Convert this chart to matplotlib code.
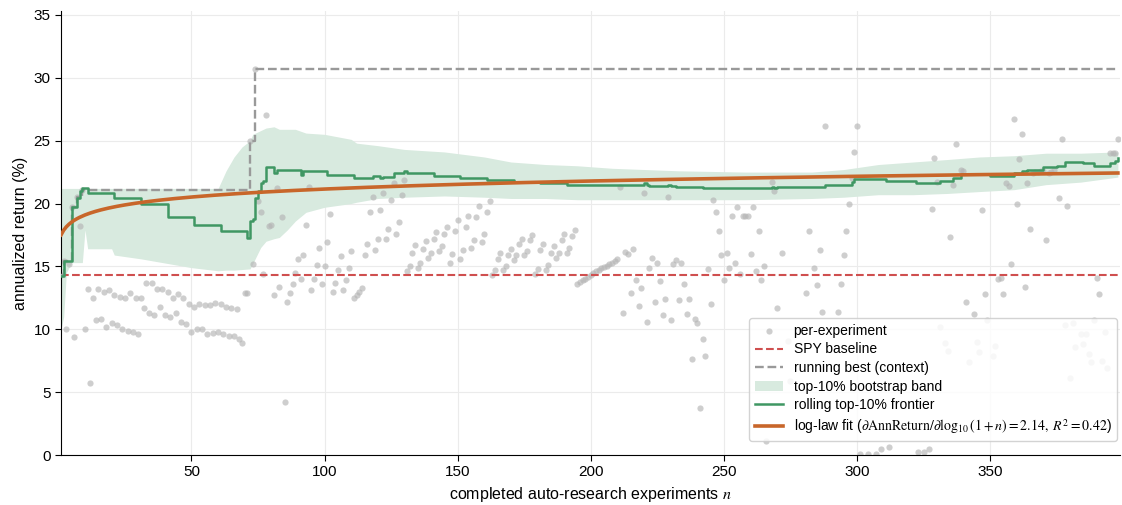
import matplotlib
matplotlib.use("Agg")
import matplotlib.pyplot as plt
import numpy as np

plt.rcParams["font.family"] = ["Liberation Sans", "DejaVu Sans"]
plt.rcParams["mathtext.fontset"] = "stix"

nan = np.nan

# annualized return (%) of each experiment, n = 1..398 (nan = not visible)
exp_ret = [
    14.3, 15.4, 10.0, 15.2, 19.7, 9.4, 20.5, 18.2, 21.1, 10.0,
    13.2, 5.75, 12.5, 10.7, 13.2, 10.8, 13.0, 10.2, 13.1, 10.5,
    12.7, 10.3, 12.6, 10.0, 12.5, 9.9, 12.9, 9.8, 12.5, 9.6,
    12.5, 11.7, 13.7, 11.3, 13.7, 11.1, 13.2, 11.8, 13.2, 11.1,
    13.0, 11.0, 12.5, 11.3, 12.8, 10.6, 12.5, 10.4, 12.0, 9.8,
    11.8, 10.0, 12.0, 10.05, 11.9, 9.6, 11.95, 9.7, 12.1, 9.75,
    12.0, 9.6, 11.8, 9.5, 11.7, 9.5, 11.6, 9.2, 8.9, 12.9,
    12.9, 25.0, 15.2, 30.7, 20.2, 19.3, 14.4, 27.0, 18.2, 18.3,
    12.7, 21.2, 13.4, 18.9, 4.2, 12.2, 12.9, 13.6, 14.5, 15.6,
    14.0, 15.9, 18.3, 21.3, 13.1, 14.0, 15.1, 16.5, 13.6, 15.0,
    16.9, 19.2, 13.0, 13.7, 14.7, 15.8, 13.1, 13.9, 14.9, 16.2,
    12.5, 12.7, 13.0, 13.3, 15.9, 16.8, 19.3, 20.5, 16.3, 17.2,
    19.5, 20.8, 17.2, 18.0, 20.3, 21.6, 17.6, 18.5, 20.7, 21.9,
    14.6, 15.0, 16.1, 16.7, 14.9, 15.3, 16.4, 17.0, 15.7, 16.1,
    17.2, 17.7, 16.2, 16.6, 17.6, 18.1, 15.3, 16.0, 17.8, 18.7,
    15.6, 16.3, 18.1, 19.0, 16.5, 17.1, 18.9, 19.8, 16.9, 17.6,
    19.3, 20.2, 14.3, 14.7, 15.6, 16.1, 14.7, 15.0, 15.9, 16.4,
    15.5, 15.9, 16.8, 17.2, 15.9, 16.2, 17.1, 17.5, 14.4, 14.8,
    16.3, 16.8, 14.7, 15.1, 16.1, 16.6, 15.7, 16.1, 17.1, 17.6,
    16.1, 16.5, 17.4, 17.9, 13.6, 13.75, 13.9, 14.0, 14.15, 14.3,
    14.45, 14.6, 14.75, 14.85, 14.95, 15.05, 15.15, 15.25, 15.4, 15.55,
    21.3, 11.3, 16.15, 16.0, 12.9, 16.4, 13.9, 11.85, 13.3, 20.85,
    10.55, 14.9, 15.7, 12.2, 15.3, 13.85, 11.1, 12.4, 20.5, 10.7,
    15.2, 15.5, 12.3, 15.3, 13.6, 11.2, 12.4, 7.6, 10.8, 10.5,
    3.7, 9.2, 7.9, 14.8, 12.0, 20.3, 19.3, 17.8, 15.9, 13.9,
    16.1, 14.9, 19.0, 15.3, 19.7, 14.4, 19.0, 19.0, 19.0, 16.0,
    19.7, 14.6, 17.8, 13.9, 15.0, 1.1, nan, 21.7, 21.0, 11.7,
    nan, 16.1, nan, 9.1, 5.9, nan, nan, nan, nan, nan,
    12.9, 17.8, nan, 14.9, 13.5, 16.3, 11.4, 26.2, nan, nan,
    nan, nan, 11.4, 13.6, 15.9, 17.8, 19.95, 22.0, 24.1, 26.2,
    0.1, nan, nan, 0.05, nan, nan, 0.05, nan, 0.5, nan,
    nan, 0.66, nan, nan, nan, nan, nan, nan, nan, nan,
    nan, nan, 0.2, nan, 0.26, nan, 0.47, 19.6, 23.6, 21.7,
    10.2, nan, 8.9, 8.3, 17.3, 21.5, 24.7, nan, 22.7, 22.6,
    12.2, 7.4, nan, 11.2, 9.0, 8.2, 19.5, 12.8, 10.7, nan,
    7.9, 8.7, 14.0, 14.1, 12.8, 21.6, 21.4, 15.2, 26.7, 20.0,
    23.5, 25.5, 13.4, 21.6, 18.0, 22.4, 22.5, 22.5, 22.6, 22.6,
    17.1, 22.4, 22.5, 22.7, nan, 20.4, 25.15, 10.3, 19.8, 6.1,
    10.5, 8.6, nan, 9.6, 8.8, 9.6, 8.05, 7.4, 10.7, 14.1,
    12.8, 7.5, 9.8, 6.9, 24.0, 24.0, 24.0, 25.15,
]
exp_n = np.arange(1, len(exp_ret) + 1)

spy_baseline = 14.3

# rolling top-10% frontier (value changes at these n)
frontier_n = [1, 2, 5, 7, 8, 9, 11, 21, 31, 41, 51, 61, 71, 72, 73, 74, 75, 76,
              77, 78, 81, 82, 91, 92, 101, 111, 118, 121, 122, 126, 130, 131,
              141, 151, 161, 171, 181, 191, 201, 220, 221, 222, 229, 230, 232,
              242, 252, 268, 269, 270, 288, 298, 299, 311, 322, 331, 336, 339,
              350, 359, 362, 364, 370, 375, 378, 385, 389, 395, 397, 398]
frontier_y = [14.25, 15.4, 19.7, 20.4, 21.0, 21.2, 20.85, 20.45, 19.95, 18.9,
              18.3, 17.8, 17.25, 18.6, 18.8, 20.4, 21.0, 21.6, 21.8, 22.9,
              22.4, 22.7, 22.3, 22.6, 22.3, 22.0, 22.2, 22.0, 22.1, 22.4,
              22.6, 22.4, 22.2, 22.0, 21.9, 21.7, 21.6, 21.5, 21.45, 21.6,
              21.45, 21.4, 21.45, 21.4, 21.3, 21.25, 21.2, 21.35, 21.2, 21.3,
              21.5, 21.7, 21.95, 21.8, 21.6, 21.8, 22.0, 22.35, 22.2, 22.4,
              22.55, 22.7, 22.9, 23.0, 23.3, 23.2, 23.0, 23.2, 23.4, 23.6]

# top-10% bootstrap band
band_n = [1, 2, 3, 5, 9, 10, 11, 20, 21, 31, 50, 60, 63, 66, 69, 72, 73, 76,
          78, 81, 83, 86, 89, 93, 100, 110, 112, 120, 130, 145, 160, 170, 183,
          195, 208, 233, 258, 283, 295, 308, 321, 334, 346, 359, 371, 384, 398]
band_hi = [21.2, 21.2, 21.2, 21.2, 21.2, 21.2, 21.2, 21.2, 21.2, 21.2, 21.2,
           21.2, 22.6, 23.7, 24.5, 25.0, 25.5, 25.8, 26.0, 26.1, 25.9, 25.9,
           25.9, 25.6, 25.5, 25.1, 24.8, 24.6, 24.3, 24.1, 23.7, 23.3, 23.1,
           23.0, 22.8, 22.6, 22.5, 22.5, 22.7, 23.1, 23.3, 23.5, 23.7, 23.8,
           24.0, 24.0, 24.1]
band_lo = [10.0, 11.0, 14.5, 15.3, 15.3, 17.9, 16.4, 16.4, 15.9, 15.6, 14.9,
           14.65, 14.7, 14.7, 14.75, 14.8, 15.2, 16.5, 17.0, 17.2, 17.3, 17.9,
           18.6, 19.3, 19.7, 20.0, 20.1, 20.4, 20.5, 20.6, 20.5, 20.4, 20.4,
           20.3, 20.3, 20.3, 20.3, 20.4, 20.5, 20.7, 20.7, 20.8, 20.95, 21.1,
           21.5, 21.7, 22.1]

# log-law fit: ret = a + b * log10(1 + n)
fit_slope = 2.14
fit_intercept = 16.86
fit_r2 = 0.42

running_best = np.fmax.accumulate(np.array(exp_ret, dtype=float))
fit_n = np.linspace(1, exp_n[-1], 400)
fit_y = fit_intercept + fit_slope * np.log10(1 + fit_n)

fig, ax = plt.subplots(figsize=(11.22, 5.05), dpi=100)
fig.subplots_adjust(left=0.0544, right=0.998, bottom=0.099, top=0.978)

ax.fill_between(band_n, band_lo, band_hi, color="#d8eadf", lw=0, zorder=1,
                label="top-10% bootstrap band")
ax.scatter(exp_n, exp_ret, s=20, color="#b4b4b4", alpha=0.65, lw=0, zorder=2,
           label="per-experiment")
ax.axhline(spy_baseline, color="#cf4f4f", ls="--", lw=1.5, zorder=3,
           label="SPY baseline")
ax.plot(exp_n, running_best, color="#999999", ls="--", lw=1.7,
        drawstyle="steps-post", zorder=3, label="running best (context)")
ax.plot(frontier_n, frontier_y, color="#3f9763", lw=1.8,
        drawstyle="steps-post", zorder=4, label="rolling top-10% frontier")
ax.plot(fit_n, fit_y, color="#c8662a", lw=2.6, zorder=5,
        label=r"log-law fit ($\partial\mathrm{AnnReturn}/\partial\log_{10}(1+n)=%.2f,\ R^2=%.2f$)"
        % (fit_slope, fit_r2))

ax.set_xlim(1, 398.7)
ax.set_ylim(0, 35.3)
ax.set_xticks([50, 100, 150, 200, 250, 300, 350])
ax.set_yticks(range(0, 36, 5))
ax.tick_params(labelsize=11, length=4)
ax.grid(True, color="#ebebeb", lw=0.8)
ax.set_axisbelow(True)
for side in ["top", "right"]:
    ax.spines[side].set_visible(False)

ax.set_xlabel("completed auto-research experiments $n$", fontsize=11.5)
ax.set_ylabel("annualized return (%)", fontsize=11.5)

handles, labels = ax.get_legend_handles_labels()
order = ["per-experiment", "SPY baseline", "running best (context)",
         "top-10% bootstrap band", "rolling top-10% frontier"]
idx = [labels.index(o) for o in order] + [len(labels) - 1]
ax.legend([handles[i] for i in idx], [labels[i] for i in idx],
          loc="lower right", bbox_to_anchor=(1.0, 0.025), borderaxespad=0.2,
          fontsize=10, labelspacing=0.33, frameon=True, framealpha=0.85,
          edgecolor="#cccccc")

plt.savefig("out.png", dpi=100)
